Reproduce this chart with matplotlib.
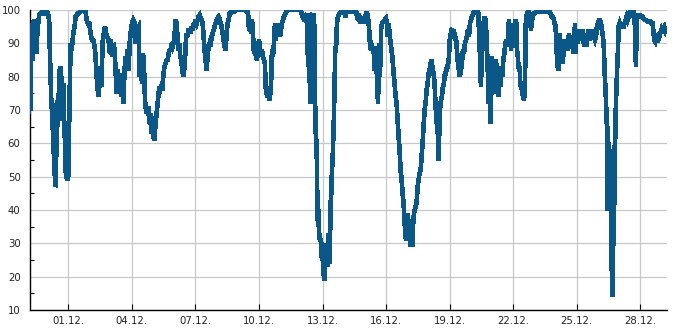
import matplotlib
matplotlib.use("Agg")
import matplotlib.pyplot as plt
import matplotlib.dates as mdates
from matplotlib.ticker import MultipleLocator
import pandas as pd

# hours relative to 01.12. 00:00, and humidity-like values (%)
h1 = [-44.9, -43.8, -42.6, -41.9, -41.1, -40.4, -39.6, -38.9, -38.1, -37.0, -35.8, -35.1, -34.0, -32.8, -31.3,
      -29.8, -28.3, -26.8, -25.3, -23.8, -22.2, -21.5, -20.7, -20.0, -19.2, -18.5, -17.7, -17.0, -16.2, -15.5,
      -14.7, -13.9, -13.2, -12.4, -11.7, -10.9, -10.2, -9.4, -8.7, -7.9, -7.2, -6.4, -5.6, -4.9, -4.1,
      -3.4, -2.6, -1.9, -1.1, -0.4, 0.4, 1.2, 1.9, 2.7, 3.4, 4.6, 5.7, 7.2, 8.3, 11.0,
      14.0, 16.6, 19.3, 20.8, 22.3, 23.8, 25.3, 26.8, 28.3, 29.9, 31.0, 31.7, 32.9, 34.0, 35.1,
      36.3, 37.4, 38.2, 39.3, 40.4, 41.6, 42.7, 44.2, 45.7, 47.2, 48.0, 49.5, 51.0, 52.5, 53.6,
      54.8, 55.5, 56.7, 57.8, 58.9, 60.1, 61.2, 62.3, 63.5, 64.6, 65.7, 66.8, 68.4, 69.5, 70.6,
      72.1, 73.6, 75.2, 75.9, 77.4]
v1 = [69, 80, 70, 92, 96, 85, 96, 97, 88, 94, 87, 93, 96, 98.5, 99,
      99.5, 99, 99, 99.5, 99.5, 98, 96, 86, 80, 72, 70, 67, 57, 70, 52,
      47, 48, 72, 65, 75, 67, 82, 73, 83, 67, 80, 68, 78, 68, 64,
      55, 50, 50, 49, 53, 50, 70, 80, 90, 88, 90, 93, 95, 98, 99,
      99.5, 100, 100, 97, 96, 96, 93, 91, 91, 89, 86, 81, 78, 74, 77,
      83, 77, 84, 92, 93, 95, 93, 92, 91, 87, 91, 86, 90, 88, 82,
      75, 82, 78, 75, 81, 74, 78, 72, 80, 86, 83, 88, 82, 90, 93,
      96, 97, 96, 90, 94]

h2 = [79.7, 80.8, 82.0, 83.5, 84.6, 85.7, 86.5, 87.2, 88.4, 89.5, 90.6, 91.8, 92.9, 94.0, 95.2,
      96.3, 97.8, 98.6, 99.7, 100.8, 102.0, 103.1, 104.2, 105.4, 106.5, 107.6, 108.4, 109.1, 110.3, 111.4,
      112.5, 113.7, 114.8, 115.9, 117.1, 118.2, 119.3, 120.5, 121.6, 122.7, 123.9, 124.6, 125.8, 126.9, 128.0,
      129.1, 130.3, 131.0, 132.2, 133.3, 134.1, 135.2, 136.3, 137.5, 138.6, 139.7, 140.9, 142.0, 143.1, 144.3,
      145.4, 146.5, 147.6, 148.8, 149.9, 151.0, 152.2, 153.3, 154.4, 155.6, 156.7, 157.8, 159.0, 160.1, 161.2,
      162.4, 163.5, 164.6, 165.8, 166.9, 168.0, 169.2, 170.3, 171.4, 172.6, 173.7, 174.8, 176.0, 177.1, 178.2,
      179.4, 180.5, 181.6, 182.8, 183.9, 185.0, 186.5, 188.4, 190.3, 192.2, 194.1, 196.0, 199.7, 201.6]
v2 = [95, 80, 85, 78, 87, 84, 76, 72, 69, 70, 71, 66, 69, 63, 68,
      62, 61, 65, 68, 71, 74, 77, 76, 77, 76, 80, 82, 83, 84, 85,
      85, 87, 88, 88, 90, 89, 90, 93, 97, 96, 91, 88, 90, 86, 85,
      82, 80, 81, 85, 91, 93, 92, 94, 94, 93, 95, 94, 96, 95, 97,
      96, 97, 98, 98.5, 97.5, 97, 96, 92, 88, 85, 82, 86, 89, 90, 89,
      92, 93, 94, 95, 96, 97, 97.5, 98, 97.5, 96, 95, 93, 91, 89, 88,
      93, 96, 97, 99, 99, 99.5, 99.5, 99.5, 100, 100, 100, 100, 100, 99.5]

h3 = [203.5, 204.7, 205.8, 206.9, 208.1, 209.2, 210.3, 211.5, 212.6, 213.7, 214.9, 216.0, 217.1, 218.3, 219.4,
      220.5, 221.7, 222.8, 223.5, 224.7, 225.8, 226.9, 228.1, 229.2, 230.0, 230.7, 231.8, 233.0, 234.1, 235.2,
      236.4, 237.5, 238.6, 239.8, 240.9, 242.0, 243.2, 244.3, 245.8, 247.3, 248.8, 252.6, 256.4, 260.2, 263.2,
      264.7, 266.2, 267.7, 269.2, 270.0, 270.7, 271.5, 272.2, 273.0, 273.7, 274.5, 275.3, 276.0, 276.8, 277.5,
      278.3, 279.0, 279.8, 280.5, 281.3, 282.0, 282.8, 283.6, 284.3, 285.1, 285.8, 286.6, 287.3, 288.1, 288.8,
      289.6, 290.4, 291.1, 291.9, 292.6, 293.4, 294.1, 294.9, 295.6, 296.4, 297.2, 297.9, 298.7, 299.4, 300.2,
      300.9, 301.7, 302.4, 303.6, 304.3, 305.5, 307.0, 309.2, 311.5, 313.0, 314.1, 315.3, 317.5, 320.6, 323.6,
      325.8, 327.0]
v3 = [100, 94, 97, 93, 97, 93, 87, 89, 86, 85, 88, 91, 89, 86, 88,
      86, 85, 84, 77, 75, 74, 76, 73, 76, 80, 88, 86, 90, 96, 91,
      95, 92, 96, 92, 94, 96, 97, 98, 99, 99.5, 100, 100, 100, 100, 100,
      98.5, 97.5, 98, 97, 98, 99, 83, 95, 85, 77, 72, 80, 98, 99, 83,
      99, 90, 68, 62, 60, 45, 35, 40, 32, 31, 31, 30, 25, 30, 22,
      20, 19, 26, 28, 24, 30, 23, 33, 24, 30, 42, 45, 52, 55, 62,
      68, 79, 88, 90, 96, 98, 99, 99.5, 99.5, 99, 98, 99.5, 99.5, 99.5, 99.5,
      100, 98]

h4 = [328.1, 329.2, 330.4, 331.5, 332.6, 333.8, 334.9, 336.0, 337.2, 338.3, 339.4, 340.6, 341.7, 342.8, 344.0,
      345.1, 346.2, 347.0, 347.7, 348.5, 349.3, 350.0, 350.8, 351.5, 352.3, 353.0, 353.8, 354.5, 355.7, 356.8,
      358.3, 359.8, 361.0, 361.7, 362.8, 364.0, 365.1, 366.2, 367.4, 368.5, 369.6, 370.8, 371.9, 373.0, 374.2,
      375.3, 376.4, 377.6, 378.7, 379.8, 381.0, 381.7, 382.5, 383.2, 384.0, 384.7, 385.5, 386.2, 387.0, 387.8,
      388.9, 389.6, 390.4, 391.2, 392.3, 393.4, 394.5, 395.7, 396.8, 397.9, 399.1, 400.2, 401.3, 402.5, 403.6,
      404.7, 405.9, 407.0, 408.1, 409.3, 410.4, 411.5, 412.7, 413.8, 414.9, 416.1, 417.2, 418.0, 418.7, 419.5,
      420.2, 421.0, 422.1, 423.2, 424.4, 425.5, 426.6, 427.8, 428.9, 430.0, 431.2, 432.3, 433.4, 434.6, 435.7,
      436.8, 438.0, 439.1, 440.2, 441.4, 442.5, 443.6, 444.8, 445.9, 447.0, 448.2, 449.3, 450.4, 451.6]
v4 = [97, 99, 96, 98, 96, 98, 97, 96, 99, 99, 98, 95, 90, 88, 89,
      88, 87, 82, 89, 81, 88, 78, 72, 80, 90, 80, 88, 95, 96, 96.5,
      97, 97.5, 96, 92, 96, 93, 90, 88, 85, 81, 78, 74, 72, 67, 62,
      58, 52, 49, 45, 42, 36, 33, 31, 38, 33, 39, 32, 37, 34, 29,
      31, 29, 35, 38, 40, 41, 42, 47, 49, 51, 52, 56, 60, 65, 70,
      72, 76, 78, 81, 82, 84, 85, 82, 81, 78, 71, 67, 63, 68, 55,
      63, 70, 73, 74, 77, 78, 81, 81, 83, 83, 86, 92, 93, 94.5, 92,
      94, 91, 92, 88, 84, 82, 80, 82, 84, 88, 87, 90, 91, 92]

h5 = [452.7, 453.8, 455.0, 456.1, 457.2, 458.7, 460.3, 461.8, 463.3, 464.4, 465.2, 465.9, 466.7, 467.4, 468.2,
      468.9, 469.7, 470.4, 471.6, 472.7, 473.8, 474.6, 475.4, 476.1, 476.9, 477.6, 478.4, 479.1, 479.9, 480.6,
      481.4, 482.1, 482.9, 483.7, 484.4, 485.2, 485.9, 486.7, 487.4, 488.2, 488.9, 489.7, 490.5, 491.6, 492.7,
      493.9, 495.0, 496.1, 497.2, 498.4, 499.1, 499.9, 500.6, 501.4, 502.5, 503.7, 504.8, 505.9, 506.7, 507.4,
      508.2, 508.9, 509.7, 510.5, 511.2, 512.0, 512.7, 513.9, 515.0, 516.1, 517.3, 518.0, 518.8, 519.9, 521.0,
      522.2, 523.3, 524.1, 524.8, 525.9, 527.1, 528.2, 530.1, 532.0, 533.9, 535.8, 537.6, 539.5, 541.4, 543.3,
      545.2, 546.3, 547.5, 548.6, 549.7, 550.9, 552.0, 552.7, 553.5, 554.3, 555.0, 555.8, 556.5, 557.3, 558.0,
      558.8, 559.5, 560.3, 561.0, 561.8, 562.6, 563.7, 564.8, 566.0, 567.1, 568.2, 569.4, 570.5, 571.6, 572.7]
v5 = [94, 92, 96, 97, 98, 99, 99.5, 99.5, 100, 99, 94, 90, 84, 77, 85,
      92, 88, 96, 98, 97, 92, 86, 80, 72, 78, 74, 66, 75, 86, 80,
      75, 84, 76, 85, 78, 84, 80, 82, 74, 79, 81, 77, 83, 80, 85,
      87, 90, 91, 89, 93, 97, 92, 96, 88, 91, 89, 90, 94, 97, 96,
      88, 87, 84, 82, 83, 78, 77, 76, 74, 73, 76, 95, 98, 99, 98.5,
      99, 97, 94, 96, 98, 99, 99, 99.5, 99.5, 99.5, 99.5, 99.5, 99.5, 99.5, 99.5,
      99.5, 99, 98, 98, 97.5, 96, 95, 91, 86, 83, 82, 86, 93, 88, 85,
      91, 84, 89, 86, 90, 88, 91, 90, 88, 93, 90, 92, 91, 88, 87]

h6 = [573.9, 574.7, 575.4, 576.5, 577.7, 578.8, 579.9, 581.1, 582.2, 583.3, 584.5, 585.6, 586.7, 587.9, 589.0,
      590.1, 591.3, 592.8, 594.3, 595.4, 596.6, 597.7, 598.8, 600.0, 601.1, 602.2, 603.4, 604.5, 605.6, 606.4,
      607.1, 607.9, 608.6, 609.4, 610.1, 610.5, 611.3, 612.0, 612.8, 613.5, 614.3, 615.1, 615.8, 616.6, 617.3,
      618.1, 618.8, 619.6, 620.3, 621.1, 621.8, 622.6, 623.4, 624.5, 625.6, 626.8, 627.9, 629.0, 630.1, 631.3,
      632.4, 633.5, 634.7, 635.8, 637.0, 638.1, 639.2, 640.3, 641.5, 642.2, 643.0, 643.7, 644.5, 645.6, 647.1,
      648.6, 650.2, 651.7, 653.2, 654.7, 656.2, 657.7, 659.2, 660.7, 661.9, 663.0, 663.7, 664.9, 666.0, 667.1,
      668.3, 669.4, 670.5, 671.7, 672.8, 673.9, 675.1, 676.2, 677.3]
v6 = [96, 87, 93, 90, 94, 91, 94, 91, 94, 91, 89, 93, 89, 92, 94,
      91, 94, 93, 94, 92, 91, 92, 95, 96, 97, 97, 96, 94, 92, 90,
      85, 79, 76, 70, 65, 40, 65, 52, 58, 41, 58, 22, 40, 14, 31,
      32, 58, 62, 72, 78, 83, 88, 95, 96, 95, 95, 95, 95, 96, 97,
      98, 97, 98, 99, 98, 99.5, 99, 99.5, 98, 90, 83, 95, 98, 98.5, 98.5,
      98, 98, 97.5, 97, 97, 96.5, 96.5, 96.5, 96, 96, 93, 91, 90.5, 92, 91,
      93, 92, 93, 94, 93, 94.5, 95, 94, 95]

hours = h1 + h2 + h3 + h4 + h5 + h6
values = v1 + v2 + v3 + v4 + v5 + v6
assert len(hours) == len(values), (len(hours), len(values))

base = pd.Timestamp("2023-12-01")
times = base + pd.to_timedelta(hours, unit="h")

fig = plt.figure(figsize=(6.85, 3.30), dpi=100)
ax = fig.add_axes([30.3 / 685, 1 - 310 / 330, (666.5 - 30.3) / 685, 300 / 330])

ax.plot(times, values, color="#0b5787", linewidth=2.6, zorder=3,
        solid_joinstyle="miter", solid_capstyle="butt", antialiased=False)

ax.set_xlim(base + pd.Timedelta(hours=-43.0), base + pd.Timedelta(hours=677.6))
ax.set_ylim(10, 100)

ax.xaxis.set_major_locator(mdates.DayLocator(bymonthday=[1, 4, 7, 10, 13, 16, 19, 22, 25, 28]))
ax.xaxis.set_major_formatter(mdates.DateFormatter("%d.%m."))
ax.yaxis.set_major_locator(MultipleLocator(10))
ax.yaxis.set_minor_locator(MultipleLocator(5))

ax.grid(True, which="major", color="#c8c8c8", linewidth=0.9, zorder=0)
ax.set_axisbelow(True)

for s in ["top", "right"]:
    ax.spines[s].set_visible(False)
for s in ["left", "bottom"]:
    ax.spines[s].set_color("black")
    ax.spines[s].set_linewidth(1.0)

ax.tick_params(axis="both", which="both", direction="in", colors="black", labelcolor="#222222", labelsize=7.3)
ax.tick_params(axis="x", which="major", length=4, width=0.8, pad=4)
ax.tick_params(axis="y", which="major", length=0, pad=7)
ax.tick_params(axis="y", which="minor", length=3, width=0.8)
ax.tick_params(axis="x", which="minor", length=0)

fig.savefig("out.png", dpi=100)
